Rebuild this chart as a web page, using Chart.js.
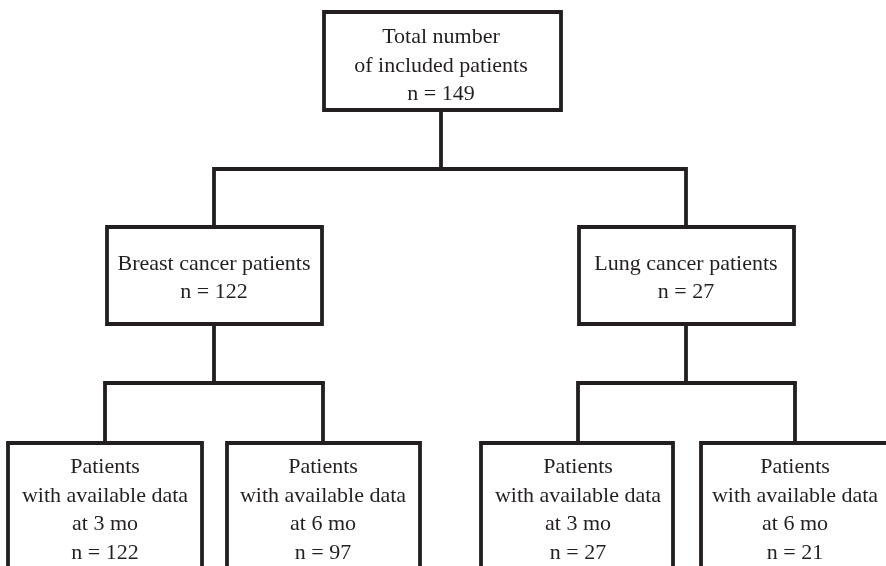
<!DOCTYPE html>
<html>
<head>
<meta charset="utf-8">
<script src="https://cdn.jsdelivr.net/npm/chart.js@4.4.0/dist/chart.umd.min.js"></script>
<style>
  html, body { margin: 0; padding: 0; background: #ffffff; }
  #wrap { width: 886px; height: 566px; position: relative; }
</style>
</head>
<body>
<div id="wrap"><canvas id="c"></canvas></div>
<script>
// ---- Data: flowchart node texts and counts ----
const nodeTitles = [
  "Total number\nof included patients",
  "Breast cancer patients",
  "Lung cancer patients",
  "Patients\nwith available data\nat 3 mo",
  "Patients\nwith available data\nat 6 mo",
  "Patients\nwith available data\nat 3 mo",
  "Patients\nwith available data\nat 6 mo"
];
const nodeCounts = [149, 122, 27, 122, 97, 27, 21];
// tree structure: parent index -> children indices
const nodeChildren = [[1, 2], [3, 4], [5, 6]];

// ---- Layout (positions in the hidden linear scale units) ----
const boxLeft   = [324, 107, 579,   8, 227, 481, 701];
const boxRight  = [561, 322, 794, 202, 420, 673, 900];
const boxTop    = [ 12, 227, 227, 443, 443, 443, 443];
const boxBottom = [110, 324, 324, 600, 600, 600, 600];
const centerX   = [441, 214, 686, 105, 323, 578, 795];
const forkY     = [169, 383, 383];
const textCenterY = [66, 278, 278, 510, 510, 510, 510];
const lineGap = 28.5;

const INK = '#231f20';
const LW = 3.8;

const datasets = [];
function seg(points) {
  datasets.push({
    type: 'line',
    data: points.map(p => ({ x: p[0], y: p[1] })),
    borderColor: INK,
    borderWidth: LW,
    pointRadius: 0,
    fill: false,
    tension: 0,
    borderJoinStyle: 'miter',
    borderCapStyle: 'square',
    clip: false
  });
}

// boxes
for (let i = 0; i < nodeTitles.length; i++) {
  seg([[boxLeft[i], boxTop[i]], [boxRight[i], boxTop[i]], [boxRight[i], boxBottom[i]],
       [boxLeft[i], boxBottom[i]], [boxLeft[i], boxTop[i]]]);
}
// connectors
nodeChildren.forEach((kids, p) => {
  const fy = forkY[p];
  seg([[centerX[p], boxBottom[p]], [centerX[p], fy]]);
  const a = kids[0], b = kids[1];
  seg([[centerX[a], boxTop[a]], [centerX[a], fy], [centerX[b], fy], [centerX[b], boxTop[b]]]);
});

const textPlugin = {
  id: 'nodeText',
  afterDatasetsDraw(chart) {
    const { ctx, scales } = chart;
    ctx.save();
    ctx.fillStyle = INK;
    ctx.font = '22px "Liberation Serif", "DejaVu Serif", serif';
    ctx.textAlign = 'center';
    ctx.textBaseline = 'middle';
    for (let i = 0; i < nodeTitles.length; i++) {
      const lines = nodeTitles[i].split('\n').concat(['n = ' + nodeCounts[i]]);
      const x = scales.x.getPixelForValue(centerX[i]);
      const cy = scales.y.getPixelForValue(textCenterY[i]);
      const start = cy - (lines.length - 1) * lineGap / 2;
      lines.forEach((t, k) => ctx.fillText(t, x, start + k * lineGap));
    }
    ctx.restore();
  }
};

new Chart(document.getElementById('c'), {
  type: 'scatter',
  data: { datasets },
  options: {
    responsive: true,
    maintainAspectRatio: false,
    animation: false,
    layout: { padding: 0 },
    plugins: { legend: { display: false }, tooltip: { enabled: false } },
    scales: {
      x: { type: 'linear', min: 0, max: 886, display: false },
      y: { type: 'linear', min: 0, max: 566, reverse: true, display: false }
    }
  },
  plugins: [textPlugin]
});
</script>
</body>
</html>
